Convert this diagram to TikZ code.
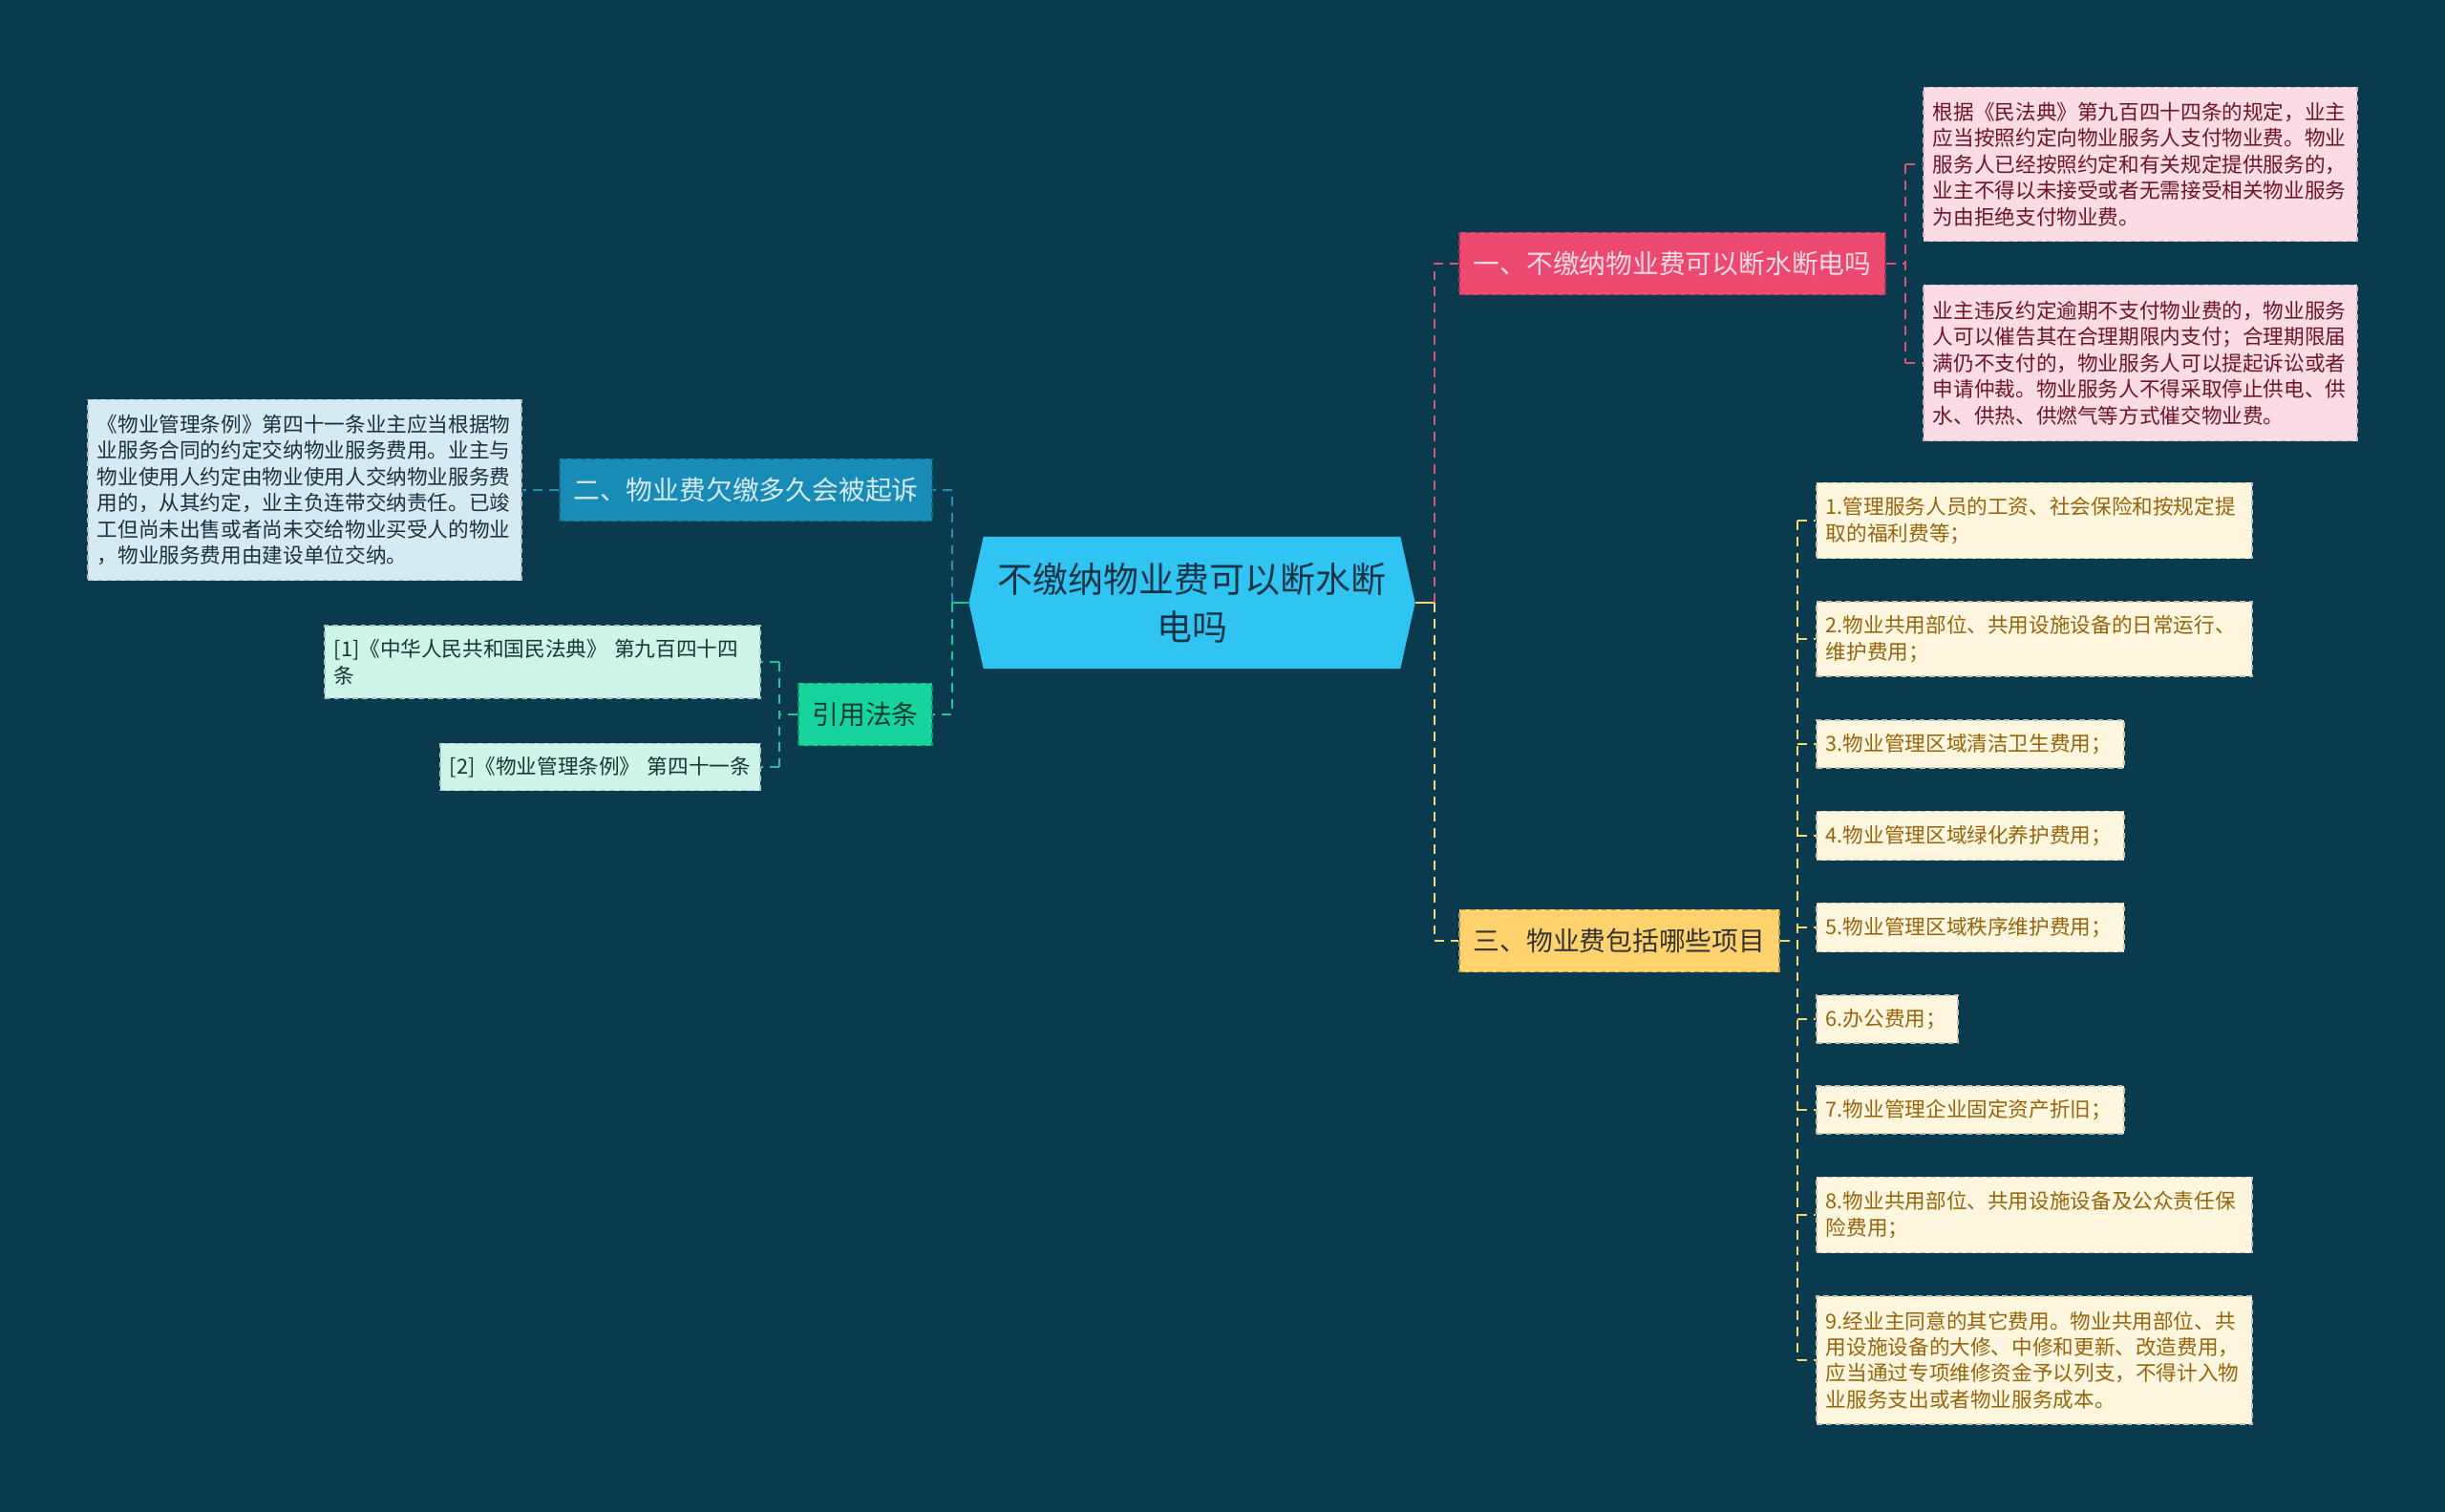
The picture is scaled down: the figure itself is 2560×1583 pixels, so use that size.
\documentclass[tikz,border=0pt]{standalone}
\usepackage{fontspec}
\setmainfont{Noto Sans CJK SC}
\usetikzlibrary{shapes.symbols}
\definecolor{bgnavy}{RGB}{9,58,77}
\definecolor{rootcyan}{RGB}{47,196,242}
\definecolor{roottext}{RGB}{24,52,68}
\definecolor{pinkfill}{RGB}{236,72,112}
\definecolor{pinkleaf}{RGB}{251,220,228}
\definecolor{pinktext}{RGB}{110,20,45}
\definecolor{pinkline}{RGB}{222,82,122}
\definecolor{goldfill}{RGB}{255,210,110}
\definecolor{goldleaf}{RGB}{255,246,224}
\definecolor{goldtext}{RGB}{150,100,12}
\definecolor{goldline}{RGB}{250,215,110}
\definecolor{bluefill}{RGB}{24,140,182}
\definecolor{blueleaf}{RGB}{214,234,242}
\definecolor{bluetext}{RGB}{22,50,68}
\definecolor{blueline}{RGB}{40,140,180}
\definecolor{greenfill}{RGB}{22,212,155}
\definecolor{greenleaf}{RGB}{205,245,233}
\definecolor{greentext}{RGB}{18,58,50}
\definecolor{greenline}{RGB}{30,200,150}

\begin{document}
\begin{tikzpicture}[x=0.01cm,y=-0.01cm,
	box/.style={line width=.5pt, dash pattern=on 1.6pt off 1.2pt, inner xsep=0.1cm, inner ysep=0pt},
	leaf/.style={box, align=left, font=\fontsize{6.15}{7.8}\selectfont},
	branch/.style={box, align=center, inner xsep=0pt, minimum height=0.65cm, font=\fontsize{7.9}{10}\selectfont},
	link/.style={line width=.6pt, dash pattern=on 2.8pt off 2pt},
	root/.style={shape=signal, signal to=west and east, signal pointer angle=155, fill=rootcyan, text=roottext,
		minimum width=4.67cm, minimum height=1.38cm, inner sep=0pt, align=center, font=\fontsize{10.5}{14.2}\selectfont}]
	% draw background
	\useasboundingbox (0,0) rectangle (2560,1583);
	\fill[bgnavy] (0,0) rectangle (2560,1583);

	% draw root
	\node[root] (root) at (1248,631) {不缴纳物业费可以断水断\\电吗};

	% draw branches
	\node[branch, anchor=west, fill=pinkfill, draw=pinkfill!70!black, text=pinkleaf, minimum width=4.46cm] (cut) at (1527,276) {一、不缴纳物业费可以断水断电吗};
	\node[branch, anchor=west, fill=goldfill, draw=goldfill!70!black, text=black!80, minimum width=3.35cm] (fees) at (1527,985) {三、物业费包括哪些项目};
	\node[branch, anchor=east, fill=bluefill, draw=bluefill!70!black, text=blueleaf, minimum width=3.90cm] (sue) at (977,513) {二、物业费欠缴多久会被起诉};
	\node[branch, anchor=east, fill=greenfill, draw=greenfill!70!black, text=greentext, minimum width=1.40cm] (law) at (977,748) {引用法条};

	% draw leaves (right, pink)
	\node[leaf, anchor=west, fill=pinkleaf, draw=pinkleaf!60!gray, text=pinktext, text width=4.34cm, minimum height=1.61cm] (cutA) at (2013,172) {根据《民法典》第九百四十四条的规定，业主\\应当按照约定向物业服务人支付物业费。物业\\服务人已经按照约定和有关规定提供服务的，\\业主不得以未接受或者无需接受相关物业服务\\为由拒绝支付物业费。};
	\node[leaf, anchor=west, fill=pinkleaf, draw=pinkleaf!60!gray, text=pinktext, text width=4.34cm, minimum height=1.63cm] (cutB) at (2013,380) {业主违反约定逾期不支付物业费的，物业服务\\人可以催告其在合理期限内支付；合理期限届\\满仍不支付的，物业服务人可以提起诉讼或者\\申请仲裁。物业服务人不得采取停止供电、供\\水、供热、供燃气等方式催交物业费。};

	% draw leaves (right, gold)
	\tikzset{item/.style={leaf, anchor=west, fill=goldleaf, draw=goldleaf!55!gray, text=goldtext}}
	\node[item, text width=4.36cm, minimum height=0.79cm] (item1) at (1901,545) {1.管理服务人员的工资、社会保险和按规定提\\取的福利费等；};
	\node[item, text width=4.36cm, minimum height=0.78cm] (item2) at (1901,669) {2.物业共用部位、共用设施设备的日常运行、\\维护费用；};
	\node[item, text width=3.02cm, minimum height=0.50cm] (item3) at (1901,779) {3.物业管理区域清洁卫生费用；};
	\node[item, text width=3.02cm, minimum height=0.51cm] (item4) at (1901,875) {4.物业管理区域绿化养护费用；};
	\node[item, text width=3.02cm, minimum height=0.51cm] (item5) at (1901,971) {5.物业管理区域秩序维护费用；};
	\node[item, text width=1.28cm, minimum height=0.50cm] (item6) at (1901,1067) {6.办公费用；};
	\node[item, text width=3.02cm, minimum height=0.50cm] (item7) at (1901,1162) {7.物业管理企业固定资产折旧；};
	\node[item, text width=4.36cm, minimum height=0.79cm] (item8) at (1901,1272) {8.物业共用部位、共用设施设备及公众责任保\\险费用；};
	\node[item, text width=4.36cm, minimum height=1.34cm] (item9) at (1901,1424) {9.经业主同意的其它费用。物业共用部位、共\\用设施设备的大修、中修和更新、改造费用，\\应当通过专项维修资金予以列支，不得计入物\\业服务支出或者物业服务成本。};

	% draw leaves (left)
	\node[leaf, anchor=east, fill=blueleaf, draw=blueleaf!60!gray, text=bluetext, text width=4.34cm, minimum height=1.89cm] (sueA) at (547,513) {《物业管理条例》第四十一条业主应当根据物\\业服务合同的约定交纳物业服务费用。业主与\\物业使用人约定由物业使用人交纳物业服务费\\用的，从其约定，业主负连带交纳责任。已竣\\工但尚未出售或者尚未交给物业买受人的物业\\，物业服务费用由建设单位交纳。};
	\node[leaf, anchor=east, fill=greenleaf, draw=greenleaf!60!gray, text=greentext, text width=4.36cm, minimum height=0.76cm] (lawA) at (797,693) {[1]《中华人民共和国民法典》 第九百四十四\\条};
	\node[leaf, anchor=east, fill=greenleaf, draw=greenleaf!60!gray, text=greentext, text width=3.15cm, minimum height=0.49cm] (lawB) at (797,803) {[2]《物业管理条例》 第四十一条};

	% draw connectors
	\coordinate (rtrunk) at (1502,631);
	\coordinate (ltrunk) at (997,631);
	\draw[goldline, line width=.6pt] (root.east) -- (rtrunk);
	\draw[greenline, line width=.6pt] (root.west) -- (ltrunk);
	\draw[link, pinkline] (rtrunk) |- (cut.west);
	\draw[link, goldline] (rtrunk) |- (fees.west);
	\draw[link, blueline] (ltrunk) |- (sue.east);
	\draw[link, greenline] (ltrunk) |- (law.east);

	\coordinate (cuttrunk) at ([xshift=0.2cm]cut.east);
	\draw[link, pinkline] (cut.east) -- (cuttrunk);
	\draw[link, pinkline] (cuttrunk |- cutA.west) -- (cuttrunk |- cutB.west);
	\foreach \n in {cutA,cutB}
		\draw[link, pinkline] (cuttrunk |- \n.west) -- (\n.west);

	\coordinate (feetrunk) at ([xshift=0.18cm]fees.east);
	\draw[link, goldline] (fees.east) -- (feetrunk);
	\draw[link, goldline] (feetrunk |- item1.west) -- (feetrunk |- item9.west);
	\foreach \i in {1,...,9}
		\draw[link, goldline] (feetrunk |- item\i.west) -- (item\i.west);

	\draw[link, blueline] (sue.west) -- (sueA.east);

	\coordinate (lawtrunk) at ([xshift=-0.19cm]law.west);
	\draw[link, greenline] (law.west) -- (lawtrunk);
	\draw[link, greenline] (lawtrunk |- lawA.east) -- (lawtrunk |- lawB.east);
	\foreach \n in {lawA,lawB}
		\draw[link, greenline] (lawtrunk |- \n.east) -- (\n.east);
\end{tikzpicture}
\end{document}
